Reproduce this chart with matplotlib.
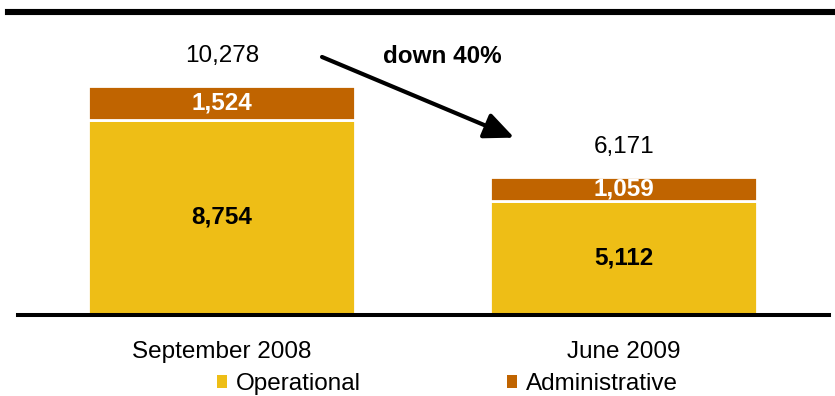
import matplotlib.pyplot as plt
import numpy as np
from matplotlib.patches import Patch

plt.rcParams['font.family'] = ['Liberation Sans', 'DejaVu Sans']

periods = ['September 2008', 'June 2009']
operational = [8754, 5112]
administrative = [1524, 1059]
change_label = 'down 40%'

op_color = '#EEBE16'
adm_color = '#C06400'

totals = np.array(operational) + np.array(administrative)
x = np.arange(len(periods))
fs = 17.5

fig = plt.figure(figsize=(8.35, 3.96), dpi=100)
# baseline sits 81px above the bottom edge, plot area runs to the top
ax = fig.add_axes([0, 81 / 396, 1, 315 / 396])
ax.set_xlim(-0.552, 1.525)
ax.set_ylim(0, 14137)
ax.axis('off')

bw = 0.664
ax.bar(x, operational, bw, color=op_color, edgecolor='white', linewidth=2, zorder=2)
ax.bar(x, administrative, bw, bottom=operational, color=adm_color,
       edgecolor='white', linewidth=2, zorder=2)

for i in range(len(periods)):
    ax.text(x[i], operational[i] / 2, f'{operational[i]:,}', ha='center', va='center',
            fontsize=fs, fontweight='bold', color='black', zorder=3)
    ax.text(x[i], operational[i] + administrative[i] / 2, f'{administrative[i]:,}',
            ha='center', va='center', fontsize=fs, fontweight='bold', color='white', zorder=3)
    ax.text(x[i], totals[i] + 1350, f'{totals[i]:,}', ha='center', va='center',
            fontsize=fs, color='black')
    ax.text(x[i], -1650, periods[i], ha='center', va='center', fontsize=fs,
            color='black', clip_on=False)

# change arrow between the two totals
ax.annotate('', xy=(0.727, 7960), xytext=(0.249, 11580),
            arrowprops=dict(arrowstyle='-|>,head_length=0.45,head_width=0.2', color='black',
                            lw=3, mutation_scale=40, shrinkA=0, shrinkB=0))
ax.text(0.547, 11580, change_label, ha='center', va='center', fontsize=fs,
        fontweight='bold', color='black')

# baseline and heavy top rule
fig.add_artist(plt.Line2D([18 / 835, 829 / 835], [81 / 396, 81 / 396], color='black',
                          lw=2.9, transform=fig.transFigure, zorder=5))
fig.add_artist(plt.Line2D([8 / 835, 1.0], [384 / 396, 384 / 396], color='black',
                          lw=4.4, transform=fig.transFigure, zorder=5))

handles = [Patch(facecolor=op_color, edgecolor='none', label='Operational'),
           Patch(facecolor=adm_color, edgecolor='none', label='Administrative')]
fig.legend(handles=handles, loc='center left', bbox_to_anchor=(217 / 835, 12 / 396),
           ncol=2, frameon=False, fontsize=fs, handlelength=0.41, handleheight=0.41,
           handletextpad=0.37, columnspacing=6.0, borderpad=0, borderaxespad=0)

fig.savefig('out.png', dpi=100)
